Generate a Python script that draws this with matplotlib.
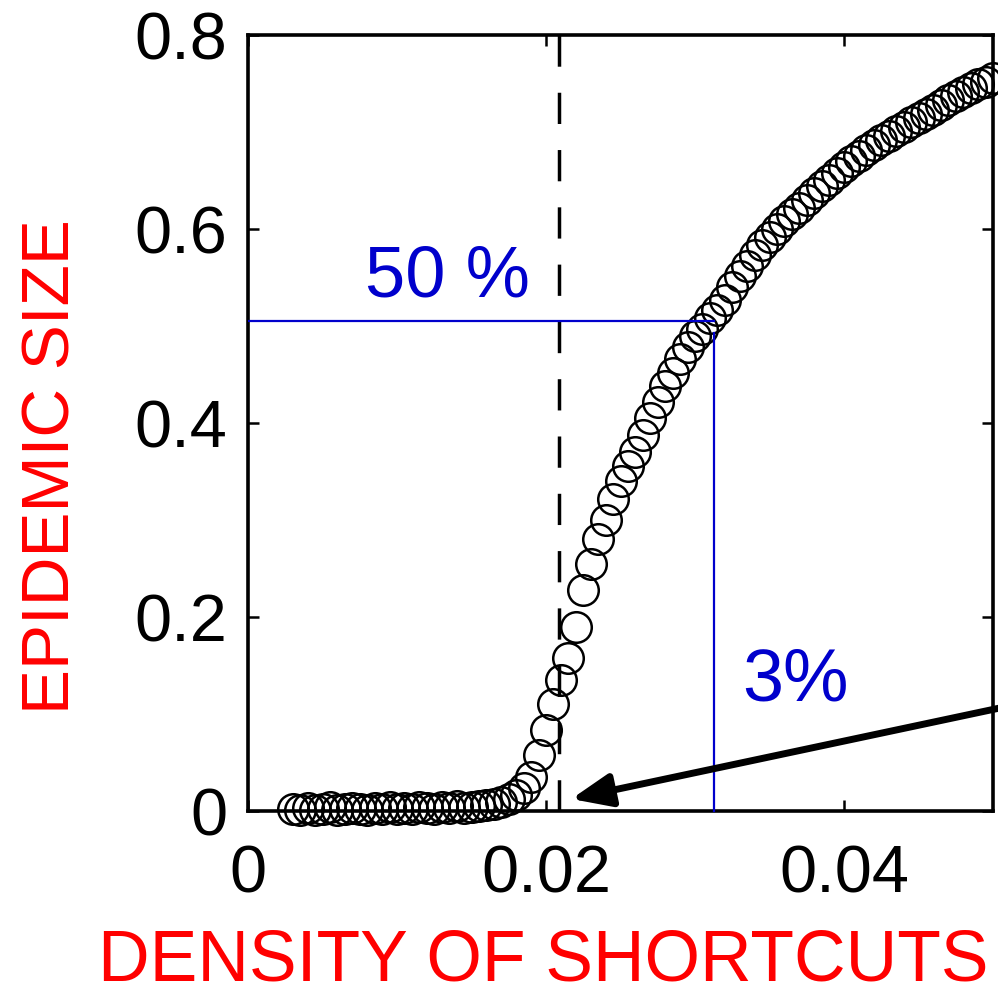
import matplotlib
matplotlib.use("Agg")
import matplotlib.pyplot as plt

plt.rcParams['font.family'] = ['Liberation Sans', 'DejaVu Sans']

# ---- data ----
density = [0.0030, 0.0035, 0.0040, 0.0045, 0.0050, 0.0055, 0.0060, 0.0065, 0.0070, 0.0075,
           0.0080, 0.0085, 0.0090, 0.0095, 0.0100, 0.0105, 0.0110, 0.0115, 0.0120, 0.0125,
           0.0130, 0.0135, 0.0140, 0.0145, 0.0150, 0.0155, 0.0160, 0.0165, 0.0170, 0.0175,
           0.0180, 0.0185, 0.0190, 0.0195, 0.0200, 0.0205, 0.0210, 0.0215, 0.0220, 0.0225,
           0.0230, 0.0235, 0.0240, 0.0245, 0.0250, 0.0255, 0.0260, 0.0265, 0.0270, 0.0275,
           0.0280, 0.0285, 0.0290, 0.0295, 0.0300, 0.0305, 0.0310, 0.0315, 0.0320, 0.0325,
           0.0330, 0.0335, 0.0340, 0.0345, 0.0350, 0.0355, 0.0360, 0.0365, 0.0370, 0.0375,
           0.0380, 0.0385, 0.0390, 0.0395, 0.0400, 0.0405, 0.0410, 0.0415, 0.0420, 0.0425,
           0.0430, 0.0435, 0.0440, 0.0445, 0.0450, 0.0455, 0.0460, 0.0465, 0.0470, 0.0475,
           0.0480, 0.0485, 0.0490, 0.0495, 0.0500]
epidemic = [0.002, 0.001, 0.003, 0.001, 0.002, 0.004, 0.001, 0.002, 0.003, 0.002,
            0.001, 0.003, 0.002, 0.004, 0.002, 0.003, 0.002, 0.004, 0.003, 0.002,
            0.004, 0.003, 0.005, 0.003, 0.004, 0.005, 0.006, 0.007, 0.009, 0.012,
            0.017, 0.024, 0.035, 0.058, 0.083, 0.110, 0.135, 0.158, 0.190, 0.228,
            0.255, 0.280, 0.300, 0.322, 0.340, 0.356, 0.370, 0.388, 0.405, 0.422,
            0.438, 0.452, 0.466, 0.478, 0.490, 0.497, 0.508, 0.517, 0.527, 0.540,
            0.552, 0.562, 0.573, 0.583, 0.592, 0.600, 0.608, 0.615, 0.622, 0.630,
            0.637, 0.644, 0.651, 0.658, 0.664, 0.670, 0.675, 0.681, 0.687, 0.692,
            0.696, 0.701, 0.705, 0.710, 0.714, 0.719, 0.723, 0.728, 0.733, 0.737,
            0.741, 0.745, 0.749, 0.752, 0.756]

x_ticks = [0, 0.02, 0.04]
x_tick_labels = ['0', '0.02', '0.04']
y_ticks = [0, 0.2, 0.4, 0.6, 0.8]
y_tick_labels = ['0', '0.2', '0.4', '0.6', '0.8']

threshold = 0.0209          # dashed vertical line
half_size = 0.505           # 50 % level
half_density = 0.0313       # density at 50 %
arrow_tip = (0.0217, 0.0124)
arrow_tail = (0.0504, 0.106)

RED = '#FF0000'
BLUE = '#0000CC'

fig = plt.figure(figsize=(9.98, 9.96), dpi=100)
ax = fig.add_axes([248/998, 1-811/996, 745/998, 776/996])

ax.plot(density, epidemic, linestyle='none', marker='o', markersize=22,
        markerfacecolor='none', markeredgecolor='black', markeredgewidth=1.8,
        clip_on=False, zorder=3)

ax.axvline(threshold, color='black', lw=2.5, linestyle=(0, (9, 7.5)), zorder=2)

ax.plot([0, half_density], [half_size, half_size], color=BLUE, lw=1.6, zorder=4)
ax.plot([half_density, half_density], [half_size - 0.012, 0], color=BLUE, lw=1.6,
        zorder=4, clip_on=False)

ax.text(0.00785, 0.530, '50 %', color=BLUE, fontsize=52, ha='left', va='baseline')
ax.text(0.0332, 0.114, '3%', color=BLUE, fontsize=53, ha='left', va='baseline')

ax.annotate('', xy=arrow_tip, xytext=arrow_tail,
            arrowprops=dict(arrowstyle='-|>,head_length=1.2,head_width=0.5',
                            mutation_scale=20, lw=5, color='black',
                            shrinkA=0, shrinkB=0),
            annotation_clip=False, zorder=5)

ax.set_xlim(0, 0.05)
ax.set_ylim(0, 0.8)
ax.set_xticks(x_ticks)
ax.set_xticklabels(x_tick_labels)
ax.set_yticks(y_ticks)
ax.set_yticklabels(y_tick_labels)
ax.tick_params(direction='in', length=8, width=1.8, top=True, right=True,
               labelsize=48, colors='black')
ax.tick_params(axis='x', pad=24)
ax.tick_params(axis='y', pad=15)
for s in ax.spines.values():
    s.set_linewidth(2.6)

fig.text(53/998, 1-467/996, 'EPIDEMIC SIZE', rotation=90, ha='center', va='center',
         fontsize=48.6, color=RED)
fig.text(543/998, 1-980/996, 'DENSITY OF SHORTCUTS', ha='center', va='baseline',
         fontsize=51.5, color=RED)

fig.savefig('out.png', dpi=100)
